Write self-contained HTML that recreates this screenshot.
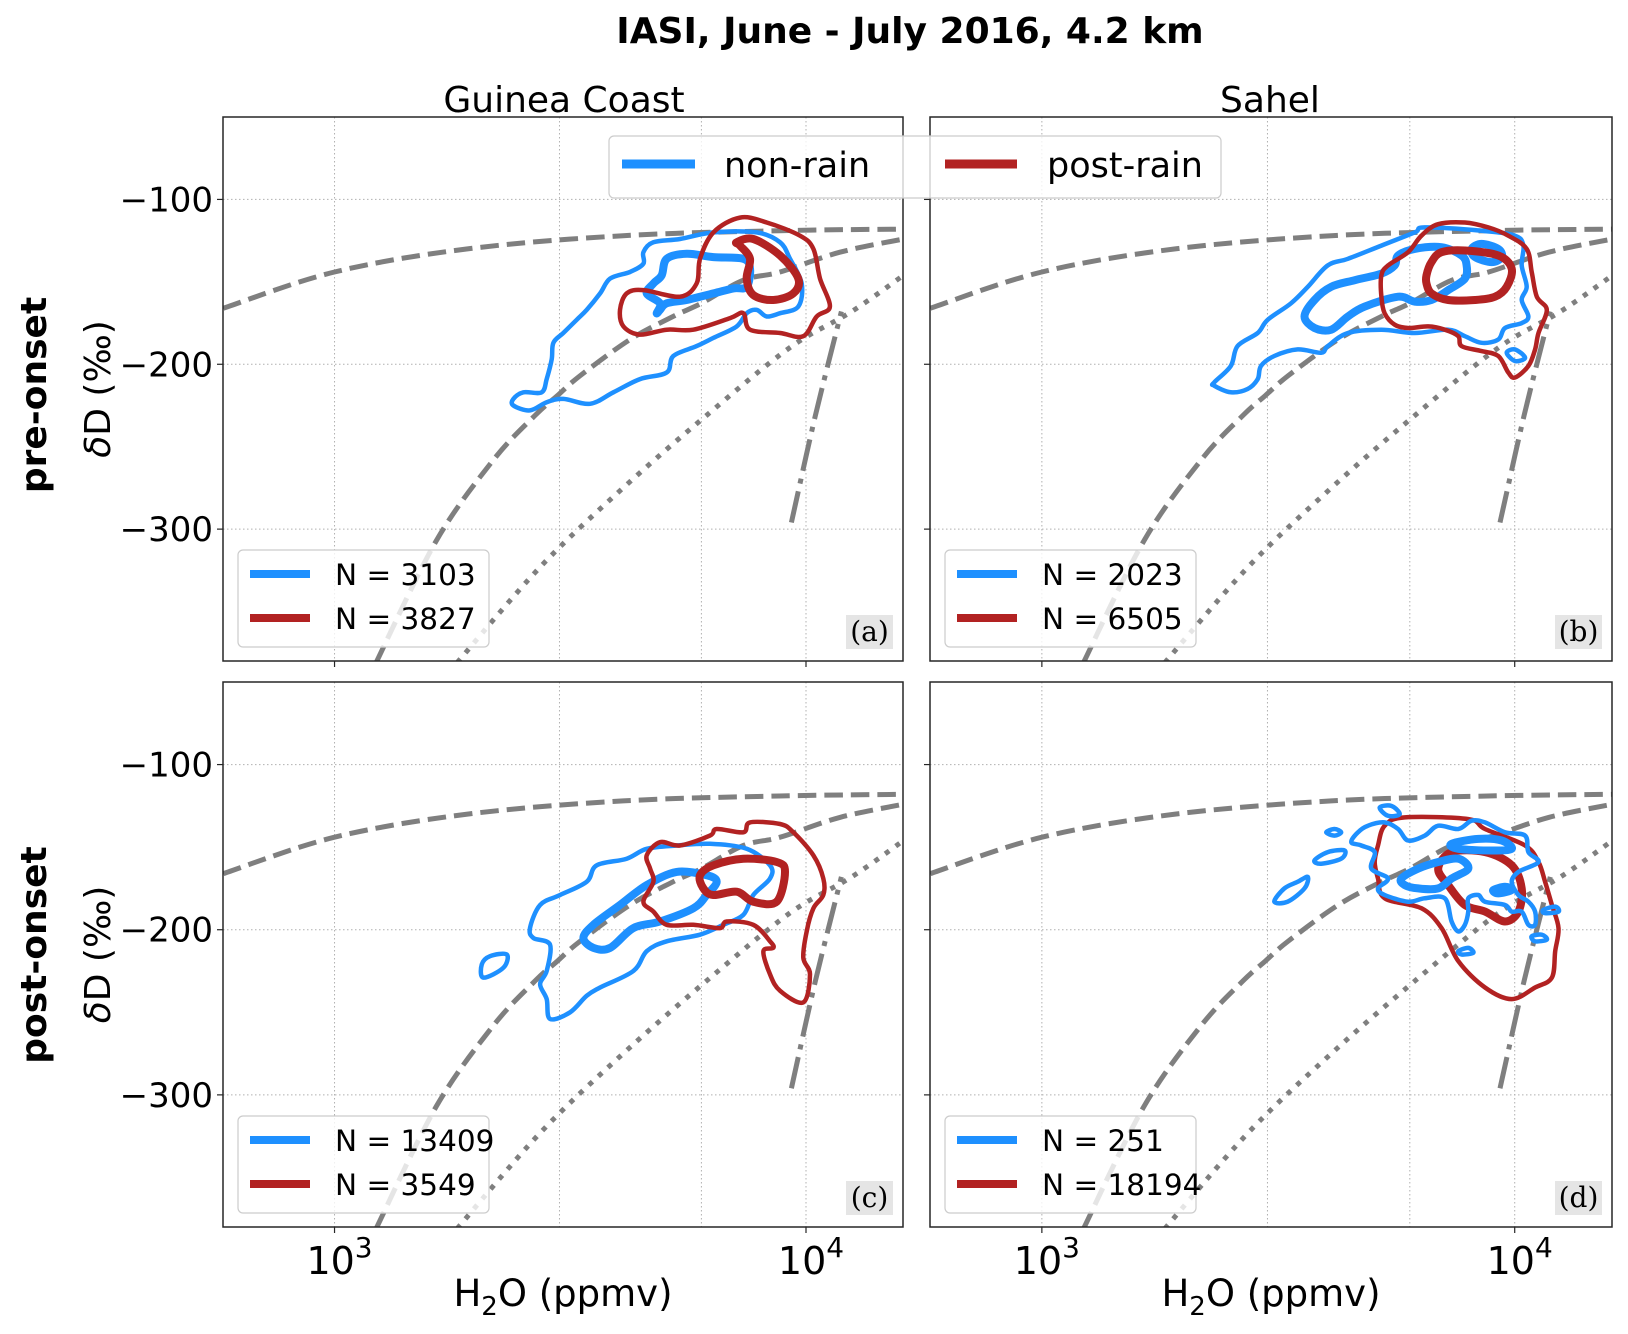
<!DOCTYPE html>
<html><head><meta charset="utf-8"><style>
html,body{margin:0;padding:0;background:#fff;}
svg text{font-family:"DejaVu Sans","Liberation Sans",sans-serif;}
</style></head><body>
<svg id="fig" width="1628" height="1329" viewBox="0 0 1628 1329" xmlns="http://www.w3.org/2000/svg">
<rect width="1628" height="1329" fill="#fff"/>
<text x="910" y="43" font-size="36" font-weight="bold" text-anchor="middle">IASI, June - July 2016, 4.2 km</text>
<text x="564" y="112" font-size="36" text-anchor="middle">Guinea Coast</text>
<text x="1270" y="112" font-size="36" text-anchor="middle">Sahel</text>
<text transform="translate(46,395) rotate(-90)" font-size="36" font-weight="bold" text-anchor="middle">pre-onset</text>
<text transform="translate(46,955) rotate(-90)" font-size="36" font-weight="bold" text-anchor="middle">post-onset</text>
<g id="panels"></g>
</svg>
<script>
// ---------- data ----------
const xTicks = [1000, 10000];
const xTickLabels = ["3", "4"];
const xGrid = [1000, 3000, 6000, 10000];
const yTicks = [-100, -200, -300];
const yTickLabels = ["\u2212100", "\u2212200", "\u2212300"];
const xLim = [580, 16060];
const yLim = [-380, -50];

// reference curves (same in all panels)
const mixQ = [581, 1000, 1914, 4094, 8770, 16100];
const mixD = [-166, -144, -130, -122, -119, -118];
const rayQ = [1225, 1644, 2173, 2663, 2969, 3316, 4233, 5224, 6000, 7363, 8810, 11800, 16100];
const rayD = [-381, -307, -258, -231, -219, -207, -185, -171, -163, -149, -144, -132, -124];
const dotQ = [1820, 2730, 4094, 6150, 9230, 12500, 16100];
const dotD = [-381, -323, -275, -231, -190, -168, -146];
const ddQ = [9310, 10470, 11890];
const ddD = [-296, -231, -168];

// panel (a)
const aBlueOutQ = [2395,2515,2750,2818,2888,2912,3057,3264,3426,3658,3842,4233,4519,4519,4746,5405,6361,7862,8810,9250,9790,9630,8810,8254,7862,7484,7129,6361,5862,5231,5065,4446,3904,3483,3057,2818,2598,2395];
const aBlueOutD = [-221,-217,-217,-209,-197,-187,-181,-173,-167,-157,-148,-144,-139,-132,-126,-124,-120,-120,-126,-136,-151,-165,-169,-171,-167,-169,-177,-184,-189,-195,-205,-209,-217,-224,-221,-223,-228,-225];
const aBlueInQ = [4824,4902,4594,4746,4942,5065,5584,6361,7363,7608,7484,7015,6361,5584,5065,4902];
const aBlueInD = [-169,-163,-157,-151,-146,-136,-133,-135,-136,-142,-153,-154,-157,-161,-163,-167];
const aRedOutQ = [4032,4165,4519,5405,5862,5959,6361,7245,8254,9712,10366,10710,11240,10535,9871,8810,7608,7363,6901,5768,5065,4446,4099];
const aRedOutD = [-167,-157,-155,-159,-151,-136,-120,-111,-114,-122,-130,-148,-165,-171,-183,-181,-179,-169,-172,-179,-179,-182,-177];
const aRedInQ = [7129,7732,8810,9630,9400,8525,7732,7484,7608,7245];
const aRedInD = [-126,-124,-134,-148,-157,-161,-158,-148,-136,-128];

// panel (b)
const bBlueOutQ = [2314,2510,2593,2860,3003,3365,3651,4025,4438,5224,6146,6453,8511,10016,10430,10347,10600,10347,10690,10347,9539,9233,8511,7845,7234,6146,5224,4438,4025,3896,3475,3102,2907,2860,2723,2510,2314];
const bBlueOutD = [-211,-201,-189,-181,-173,-163,-153,-140,-136,-128,-120,-117,-119,-122,-128,-140,-153,-161,-171,-175,-178,-185,-187,-183,-179,-181,-179,-181,-189,-193,-191,-195,-201,-209,-215,-217,-213];
const bBlueInQ = [3592,3772,4091,4585,5224,5575,5666,6146,7000,7720,7912,7845,7234,6668,6146,5666,4815,4438,4091,3772];
const bBlueInD = [-171,-161,-153,-149,-145,-140,-134,-130,-129,-134,-140,-148,-155,-161,-162,-159,-165,-171,-179,-178];
const bBlueIn2Q = [8108,8511,9233,9385,8940,8240];
const bBlueIn2D = [-130,-127,-130,-135,-138,-135];
const bBlueSmallQ = [9617,10016,10517,10016];
const bBlueSmallD = [-193,-191,-196,-198];
const bRedOutQ = [5224,5397,5949,6348,6887,7845,8795,9694,10600,10865,11134,11690,11226,11045,10690,10016,9694,9233,8511,7720,7597,7114,6561,5949,5575,5308,5224];
const bRedOutD = [-146,-140,-132,-122,-115,-114,-117,-122,-130,-144,-159,-167,-181,-191,-201,-208,-205,-195,-192,-189,-183,-179,-177,-178,-176,-169,-159];
const bRedInQ = [6508,6668,7000,7845,9233,9853,9617,9085,8240,7234,6668,6508];
const bRedInD = [-146,-138,-132,-131,-134,-142,-153,-159,-161,-161,-157,-151];

// panel (c)
const cBlueOutQ = [2598,2729,3009,3427,3598,4165,4594,5318,6258,7484,8389,8389,7732,7363,6677,5959,5065,4594,4303,3658,3427,3160,2864,2818,2729,2818,2864,2641];
const cBlueOutD = [-199,-185,-179,-171,-161,-157,-151,-149,-148,-151,-161,-169,-179,-191,-197,-203,-207,-213,-225,-235,-240,-250,-254,-242,-233,-225,-209,-205];
const cBlueInQ = [3371,3540,4032,4594,5318,6156,6465,6156,5768,4902,4303,3842,3540];
const cBlueInD = [-205,-197,-185,-173,-165,-167,-171,-179,-187,-195,-199,-211,-211];
const cBlueSmallQ = [2053,2137,2319,2281,2069];
const cBlueSmallD = [-221,-216,-215,-223,-229];
const cRedOutQ = [4594,4902,5405,6258,6465,7363,7608,8810,9400,10366,10884,10884,10366,10033,9871,10197,9871,8810,8389,8120,8525,8389,7732,6787,6570,5768,5065,4746,4519,4746,4670];
const cRedOutD = [-155,-147,-149,-143,-139,-141,-135,-136,-141,-155,-169,-179,-187,-201,-217,-227,-244,-237,-227,-213,-211,-207,-197,-195,-199,-197,-197,-189,-183,-171,-163];
const cRedInQ = [5959,6361,7363,8667,9027,8667,7732,7129,6361,6058];
const cRedInD = [-167,-161,-157,-159,-165,-183,-183,-177,-179,-175];

// panel (d)
const dRedOutQ = [5139,5309,5854,7976,8651,10517,11226,11596,11984,12379,12180,11984,11045,9853,8651,7597,7003,6350,5309,5139,5056];
const dRedOutD = [-149,-137,-132,-133,-139,-149,-159,-171,-185,-199,-213,-229,-235,-242,-235,-219,-199,-187,-181,-169,-159];
const dRedInQ = [6888,7353,8651,9853,10347,10180,9539,8651,7845,7234];
const dRedInD = [-163,-153,-153,-161,-175,-189,-195,-189,-185,-173];
const dBlueOutQ = [4975,5056,4738,4512,4661,4894,5309,5666,5950,6453,6888,7597,8108,8651,9539,10517,10690,11226,10180,9853,10180,10690,11045,11045,10690,10347,9853,9539,8651,8375,7976,7976,7845,7597,7353,7114,6453,5950,5309,5139,5395];
const dBlueOutD = [-163,-153,-149,-147,-141,-137,-135,-139,-146,-143,-137,-139,-134,-135,-141,-143,-153,-159,-165,-171,-179,-183,-189,-197,-197,-189,-189,-185,-183,-179,-181,-189,-197,-201,-195,-181,-181,-183,-179,-175,-169];
const dBlueIn1Q = [5759,6249,6888,7597,7976,7353,6888,6249,5854];
const dBlueIn1D = [-169,-163,-159,-157,-163,-169,-175,-175,-173];
const dBlueIn2Q = [7353,8375,9385,9853,8940,7597];
const dBlueIn2D = [-148,-145,-146,-151,-152,-151];
const dBlueIn3Q = [9010,9539,9853,9233];
const dBlueIn3D = [-176,-174,-176,-178];
const dS1Q = [3993,4158,4295,4158];   const dS1D = [-141,-139,-141,-143];
const dS2Q = [3772,4025,4367,4295,3897]; const dS2D = [-158,-153,-152,-157,-160];
const dS3Q = [3102,3258,3476,3651,3592,3311]; const dS3D = [-183,-175,-171,-168,-175,-183];
const dS4Q = [7597,7976,8174,7721];   const dS4D = [-213,-211,-214,-215];
const dS5Q = [10864,11408,11690,11045]; const dS5D = [-204,-203,-206,-207];
const dS6Q = [11500,12180,12379,11596]; const dS6D = [-188,-186,-189,-190];
const dS7Q = [5181,5484,5713,5395];   const dS7D = [-126,-125,-130,-131];

const countsA = ["N = 3103", "N = 3827"];
const countsB = ["N = 2023", "N = 6505"];
const countsC = ["N = 13409", "N = 3549"];
const countsD = ["N = 251", "N = 18194"];

// ---------- drawing ----------
const NS = "http://www.w3.org/2000/svg";
const BLUE = "#1e90ff", RED = "#b22222", GRAY = "#7f7f7f";
const root = document.getElementById("panels");
function mk(tag, attrs, parent) {
  const e = document.createElementNS(NS, tag);
  for (const k in attrs) e.setAttribute(k, attrs[k]);
  (parent || root).appendChild(e);
  return e;
}
function makeScales(p) {
  const lx0 = Math.log10(xLim[0]), lx1 = Math.log10(xLim[1]);
  return {
    x: q => p.x0 + (Math.log10(q) - lx0) / (lx1 - lx0) * (p.x1 - p.x0),
    y: d => p.y1 - (d - yLim[0]) / (yLim[1] - yLim[0]) * (p.y1 - p.y0)
  };
}
function openSmooth(sc, qs, ds) {
  const pts = qs.map((q, i) => [sc.x(q), sc.y(ds[i])]);
  const n = pts.length;
  let s = "M" + pts[0][0].toFixed(1) + "," + pts[0][1].toFixed(1);
  for (let i = 0; i < n - 1; i++) {
    const p0 = pts[Math.max(i - 1, 0)], p1 = pts[i], p2 = pts[i + 1], p3 = pts[Math.min(i + 2, n - 1)];
    const c1x = p1[0] + (p2[0] - p0[0]) / 6, c1y = p1[1] + (p2[1] - p0[1]) / 6;
    const c2x = p2[0] - (p3[0] - p1[0]) / 6, c2y = p2[1] - (p3[1] - p1[1]) / 6;
    s += " C" + c1x.toFixed(1) + "," + c1y.toFixed(1) + " " + c2x.toFixed(1) + "," + c2y.toFixed(1) + " " + p2[0].toFixed(1) + "," + p2[1].toFixed(1);
  }
  return s;
}
function closedSmooth(sc, qs, ds) {
  const pts = qs.map((q, i) => [sc.x(q), sc.y(ds[i])]);
  const n = pts.length;
  let s = "M" + pts[0][0].toFixed(1) + "," + pts[0][1].toFixed(1);
  for (let i = 0; i < n; i++) {
    const p0 = pts[(i - 1 + n) % n], p1 = pts[i], p2 = pts[(i + 1) % n], p3 = pts[(i + 2) % n];
    const c1x = p1[0] + (p2[0] - p0[0]) / 6, c1y = p1[1] + (p2[1] - p0[1]) / 6;
    const c2x = p2[0] - (p3[0] - p1[0]) / 6, c2y = p2[1] - (p3[1] - p1[1]) / 6;
    s += " C" + c1x.toFixed(1) + "," + c1y.toFixed(1) + " " + c2x.toFixed(1) + "," + c2y.toFixed(1) + " " + p2[0].toFixed(1) + "," + p2[1].toFixed(1);
  }
  return s + "Z";
}

const panels = [
  {id:"a", x0:223, x1:903, y0:117, y1:661, left:true, bottom:false, counts:countsA,
   contours:[[aBlueOutQ,aBlueOutD,BLUE,4.5],[aBlueInQ,aBlueInD,BLUE,8],[aRedOutQ,aRedOutD,RED,4.5],[aRedInQ,aRedInD,RED,8]]},
  {id:"b", x0:930, x1:1612, y0:117, y1:661, left:false, bottom:false, counts:countsB,
   contours:[[bBlueOutQ,bBlueOutD,BLUE,4.5],[bBlueInQ,bBlueInD,BLUE,8],[bBlueIn2Q,bBlueIn2D,BLUE,8],[bBlueSmallQ,bBlueSmallD,BLUE,4.5],[bRedOutQ,bRedOutD,RED,4.5],[bRedInQ,bRedInD,RED,8]]},
  {id:"c", x0:223, x1:903, y0:682, y1:1227, left:true, bottom:true, counts:countsC,
   contours:[[cBlueOutQ,cBlueOutD,BLUE,4.5],[cBlueInQ,cBlueInD,BLUE,8],[cBlueSmallQ,cBlueSmallD,BLUE,4.5],[cRedOutQ,cRedOutD,RED,4.5],[cRedInQ,cRedInD,RED,8]]},
  {id:"d", x0:930, x1:1612, y0:682, y1:1227, left:false, bottom:true, counts:countsD,
   contours:[[dRedOutQ,dRedOutD,RED,4.5],[dRedInQ,dRedInD,RED,8],[dBlueOutQ,dBlueOutD,BLUE,4.5],[dBlueIn1Q,dBlueIn1D,BLUE,8],[dBlueIn2Q,dBlueIn2D,BLUE,8],[dBlueIn3Q,dBlueIn3D,BLUE,8],
     [dS1Q,dS1D,BLUE,4.5],[dS2Q,dS2D,BLUE,4.5],[dS3Q,dS3D,BLUE,4.5],[dS4Q,dS4D,BLUE,4.5],[dS5Q,dS5D,BLUE,4.5],[dS6Q,dS6D,BLUE,4.5],[dS7Q,dS7D,BLUE,4.5]]}
];

panels.forEach(p => {
  const sc = makeScales(p);
  const g = mk("g", {});
  
  
  const cp = mk("clipPath", {id:"clip-" + p.id}, g);
  mk("rect", {x:p.x0, y:p.y0, width:p.x1 - p.x0, height:p.y1 - p.y0}, cp);
  xGrid.forEach(q => {
    const l = mk("line", {x1:sc.x(q), x2:sc.x(q), y1:p.y0, y2:p.y1, stroke:"#b0b0b0", "stroke-width":1, "stroke-dasharray":"1.5,2.5"}, g);
    
    
  });
  yTicks.forEach(d => {
    const l = mk("line", {x1:p.x0, x2:p.x1, y1:sc.y(d), y2:sc.y(d), stroke:"#b0b0b0", "stroke-width":1, "stroke-dasharray":"1.5,2.5"}, g);
    
    
  });
  const cg = mk("g", {"clip-path":"url(#clip-" + p.id + ")"}, g);
  const refs = [[mixQ,mixD,"18.5,8","mixing-line"],[rayQ,rayD,"18.5,8","rayleigh-curve"],[dotQ,dotD,"5,8","dotted-curve"],[ddQ,ddD,"32,8,5,8","dashdot-curve"]];
  refs.forEach(r => {
    const e = mk("path", {d:openSmooth(sc, r[0], r[1]), fill:"none", stroke:GRAY, "stroke-width":5, "stroke-dasharray":r[2]}, cg);
    
    
  });
  p.contours.forEach(c => {
    const e = mk("path", {d:closedSmooth(sc, c[0], c[1]), fill:"none", stroke:c[2], "stroke-width":c[3], "stroke-linejoin":"round"}, cg);
    
    
  });
  const fr = mk("rect", {x:p.x0, y:p.y0, width:p.x1 - p.x0, height:p.y1 - p.y0, fill:"none", stroke:"#262626", "stroke-width":1.5}, g);
  
  
  yTicks.forEach((d, i) => {
    mk("line", {x1:p.x0 - 6, x2:p.x0, y1:sc.y(d), y2:sc.y(d), stroke:"#262626", "stroke-width":1.2}, g);
    if (p.left) {
      const t = mk("text", {x:p.x0 - 10, y:sc.y(d) + 12, "font-size":34, "text-anchor":"end"}, g);
      t.textContent = yTickLabels[i];
      
      
    }
  });
  xTicks.forEach((q, i) => {
    mk("line", {x1:sc.x(q), x2:sc.x(q), y1:p.y1, y2:p.y1 + 6, stroke:"#262626", "stroke-width":1.2}, g);
    if (p.bottom) {
      const t = mk("text", {x:sc.x(q) + 5, y:p.y1 + 47, "font-size":38, "text-anchor":"middle"}, g);
      
      
      t.appendChild(document.createTextNode("10"));
      const s = mk("tspan", {dy:-17, "font-size":28}, t);
      s.textContent = xTickLabels[i];
    }
  });
  if (p.left) {
    const yl = mk("text", {transform:"translate(110," + ((p.y0 + p.y1) / 2) + ") rotate(-90)", "font-size":36, "text-anchor":"middle"}, g);
    
    
    const dl = mk("tspan", {"font-style":"italic"}, yl); dl.textContent = "\u03b4";
    const rest = mk("tspan", {}, yl); rest.textContent = "D (\u2030)";
  }
  if (p.bottom) {
    const xl = mk("text", {x:(p.x0 + p.x1) / 2, y:1306, "font-size":37, "text-anchor":"middle"}, g);
    
    
    xl.appendChild(document.createTextNode("H"));
    const s = mk("tspan", {dy:9, "font-size":26}, xl); s.textContent = "2";
    const s2 = mk("tspan", {dy:-9}, xl); s2.textContent = "O (ppmv)";
  }
  const lg = mk("g", {}, g);
  
  
  mk("rect", {x:p.x0 + 15, y:p.y1 - 111, width:251, height:97, rx:5, fill:"#fff", "fill-opacity":0.8, stroke:"#cccccc", "stroke-width":1.2}, lg);
  [BLUE, RED].forEach((col, i) => {
    const yy = p.y1 - 87 + i * 44;
    mk("line", {x1:p.x0 + 27, x2:p.x0 + 87, y1:yy, y2:yy, stroke:col, "stroke-width":8}, lg);
    const t = mk("text", {x:p.x0 + 112, y:yy + 11, "font-size":29.5}, lg);
    t.textContent = p.counts[i];
    
    
  });
  mk("rect", {x:p.x1 - 57, y:p.y1 - 46, width:47, height:34, fill:"#e5e5e5"}, g);
  const lt = mk("text", {x:p.x1 - 33.5, y:p.y1 - 20, "font-size":28, "text-anchor":"middle", style:"font-family:'DejaVu Serif','Liberation Serif',serif"}, g);
  lt.textContent = "(" + p.id + ")";
  
  
});

const ml = mk("g", {});


mk("rect", {x:609, y:136, width:612, height:62, rx:5, fill:"#fff", "fill-opacity":0.8, stroke:"#cccccc", "stroke-width":1.2}, ml);
mk("line", {x1:622, x2:695, y1:164, y2:164, stroke:BLUE, "stroke-width":9}, ml);
const t1 = mk("text", {x:724, y:177, "font-size":35}, ml);
t1.textContent = "non-rain";


mk("line", {x1:945, x2:1017, y1:164, y2:164, stroke:RED, "stroke-width":9}, ml);
const t2 = mk("text", {x:1047, y:177, "font-size":35}, ml);
t2.textContent = "post-rain";


</script>
</body></html>
